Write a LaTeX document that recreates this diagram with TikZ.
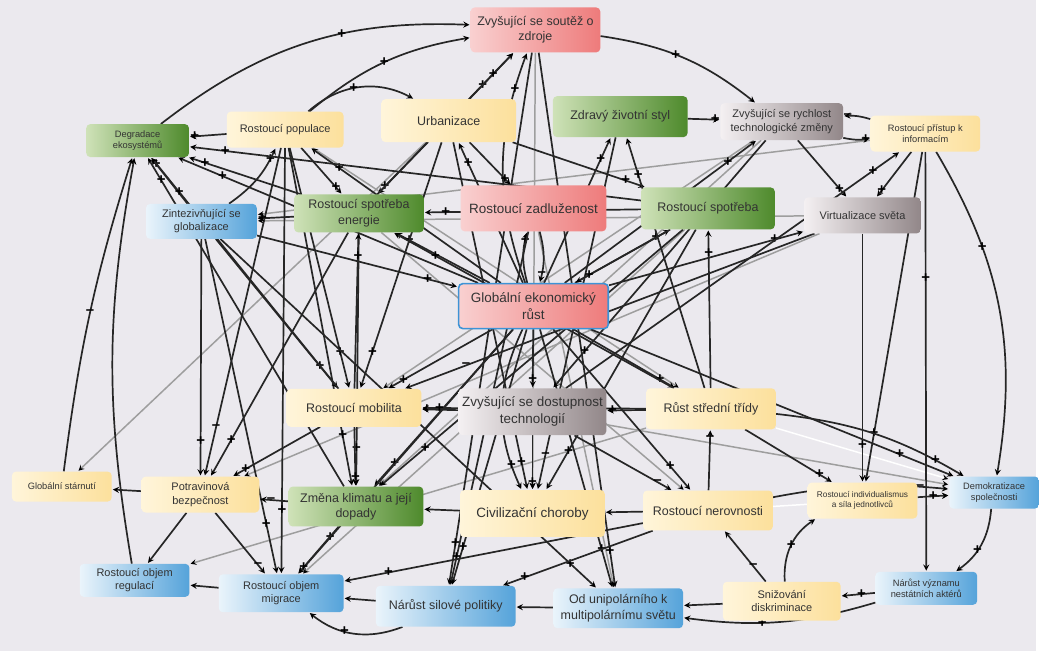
\documentclass[tikz,border=0pt]{standalone}
\usepackage{fontspec}
\setmainfont{Liberation Sans}
\usetikzlibrary{arrows}

\definecolor{paper}{HTML}{EBE9EE}
\definecolor{yelL}{HTML}{FFF5DA}
\definecolor{yelR}{HTML}{FCE09C}
\definecolor{grnL}{HTML}{CFE2B8}
\definecolor{grnR}{HTML}{4E8A2C}
\definecolor{redL}{HTML}{F9D0D0}
\definecolor{redR}{HTML}{EE7B7B}
\definecolor{gryL}{HTML}{F4F0F2}
\definecolor{gryR}{HTML}{928789}
\definecolor{bluL}{HTML}{EAF4FB}
\definecolor{bluR}{HTML}{55A3DA}
\definecolor{hubblue}{HTML}{3D93D6}

\pgfdeclarelayer{bg}
\pgfsetlayers{bg,main}

\begin{document}
\begin{tikzpicture}[
            x = 1pt, y = -1pt,
            > = stealth, % arrow head style
            shorten > = 1pt, % don't touch arrow head to node
            link/.style = {->, draw=black!85, line width=1.7pt},
            glink/.style = {->, draw=black!38, line width=1.5pt},
            wlink/.style = {->, draw=white, line width=1.5pt},
            sign/.style = {font=\fontsize{15}{15}\bfseries\selectfont, inner sep=0.3pt, pos=0.85, text=black},
            factor/.style = {rounded corners=4pt, align=center, inner sep=2pt, text=black!80},
            yelbox/.style = {factor, left color=yelL, right color=yelR},
            grnbox/.style = {factor, left color=grnL, right color=grnR},
            redbox/.style = {factor, left color=redL, right color=redR},
            grybox/.style = {factor, left color=gryL, right color=gryR},
            blubox/.style = {factor, left color=bluL, right color=bluR},
            huge/.style = {font=\fontsize{13.5}{17}\selectfont},
            big/.style = {font=\fontsize{12.5}{15.5}\selectfont},
            mid/.style = {font=\fontsize{11}{13.5}\selectfont},
            small/.style = {font=\fontsize{9.3}{11.5}\selectfont},
            tiny/.style = {font=\fontsize{8.3}{10}\selectfont}
        ]

        % factors, top to bottom
        \node[redbox, big, minimum width=130pt, minimum height=45pt] (soutez) at (537,30) {Zvyšující se soutěž o\\zdroje};
        \node[grnbox, small, minimum width=103pt, minimum height=33pt] (degr) at (138,141) {Degradace\\ekosystémů};
        \node[yelbox, mid, minimum width=117pt, minimum height=36pt] (pop) at (286,130) {Rostoucí populace};
        \node[yelbox, big, minimum width=135pt, minimum height=43pt] (urb) at (450,121) {Urbanizace};
        \node[grnbox, big, minimum width=135pt, minimum height=41pt] (zdrav) at (622,117) {Zdravý životní styl};
        \node[grybox, mid, minimum width=123pt, minimum height=37pt] (rychl) at (784,122) {Zvyšující se rychlost\\technologické změny};
        \node[yelbox, small, minimum width=110pt, minimum height=36pt] (pristup) at (928,134) {Rostoucí přístup k\\informacím};

        \node[blubox, mid, minimum width=111pt, minimum height=35pt] (glob) at (202,222) {Zintezivňující se\\globalizace};
        \node[grnbox, big, minimum width=130pt, minimum height=38pt] (energ) at (360,214) {Rostoucí spotřeba\\energie};
        \node[redbox, huge, minimum width=146pt, minimum height=46pt] (zadl) at (535,209) {Rostoucí zadluženost};
        \node[grnbox, big, minimum width=134pt, minimum height=42pt] (spotr) at (710,209) {Rostoucí spotřeba};
        \node[grybox, mid, minimum width=117pt, minimum height=36pt] (virt) at (865,216) {Virtualizace světa};

        \node[redbox, huge, draw=hubblue, line width=1.6pt, minimum width=150pt, minimum height=45pt] (rust) at (535,307) {Globální ekonomický\\růst};

        \node[yelbox, big, minimum width=135pt, minimum height=38pt] (mobil) at (355,409) {Rostoucí mobilita};
        \node[grybox, huge, minimum width=148pt, minimum height=47pt] (dostup) at (534,413) {Zvyšující se dostupnost\\technologií};
        \node[yelbox, big, minimum width=130pt, minimum height=41pt] (stred) at (713,410) {Růst střední třídy};

        \node[yelbox, small, minimum width=100pt, minimum height=30pt] (starn) at (62,488) {Globální stárnutí};
        \node[yelbox, mid, minimum width=118pt, minimum height=36pt] (potrav) at (201,496) {Potravinová\\bezpečnost};
        \node[grnbox, big, minimum width=135pt, minimum height=40pt] (klima) at (357,508) {Změna klimatu a její\\dopady};
        \node[yelbox, huge, minimum width=145pt, minimum height=47pt] (choroby) at (534,515) {Civilizační choroby};
        \node[yelbox, big, minimum width=130pt, minimum height=40pt] (nerov) at (710,512) {Rostoucí nerovnosti};
        \node[yelbox, tiny, minimum width=110pt, minimum height=36pt] (indiv) at (865,502) {Rostoucí individualismus\\a síla jednotlivců};
        \node[blubox, small, minimum width=90pt, minimum height=32pt] (demo) at (997,494) {Demokratizace\\společnosti};

        \node[blubox, mid, minimum width=110pt, minimum height=33pt] (regul) at (135,582) {Rostoucí objem\\regulací};
        \node[blubox, mid, minimum width=125pt, minimum height=38pt] (migr) at (282,595) {Rostoucí objem\\migrace};
        \node[blubox, big, minimum width=140pt, minimum height=41pt] (silova) at (447,608) {Nárůst silové politiky};
        \node[blubox, big, minimum width=130pt, minimum height=40pt] (unipol) at (620,610) {Od unipolárního k\\multipolárnímu světu};
        \node[yelbox, mid, minimum width=118pt, minimum height=39pt] (diskr) at (784,603) {Snižování\\diskriminace};
        \node[blubox, small, minimum width=102pt, minimum height=33pt] (nestat) at (929,590) {Nárůst významu\\nestátních aktérů};

        \begin{pgfonlayer}{bg}
        \fill[paper] (0,0) rectangle (1039,653);

        % faint links
        \path[glink] (virt) edge (potrav);
        \path[glink] (pristup) edge (glob);
        \path[glink] (rychl) edge (klima);
        \path[glink] (virt) edge (glob);
        \path[glink] (spotr) edge (migr);
        \path[glink] (dostup) edge (demo);
        \path[glink] (stred) edge (regul);
        \path[glink] (soutez) edge (choroby);
        \path[glink] (zadl) edge (unipol);
        \path[glink] (urb) edge (starn);
        \path[glink] (pop) edge (stred);
        \path[glink] (rychl) edge (mobil);
        \path[glink] (energ) edge (nerov);
        \path[wlink] (stred) edge (demo);
        \path[wlink] (nerov) edge (demo);

        % links from the hub
        \path[link] (rust) edge node[sign] {+} (pop)
                           edge node[sign] {+} (urb)
                           edge node[sign] {+} (energ)
                           edge[bend left=15] node[sign] {+} (zadl)
                           edge node[sign] {+} (spotr)
                           edge node[sign] {+} (virt)
                           edge node[sign] {+} (mobil)
                           edge node[sign] {+} (dostup)
                           edge node[sign] {+} (stred)
                           edge node[sign] {+} (klima)
                           edge node[sign] {+} (nerov)
                           edge[bend right=25] node[sign] {+} (choroby)
                           edge node[sign] {+} (degr)
                           edge[bend left=20] node[sign] {+} (soutez)
                           edge node[sign] {+} (zdrav)
                           edge node[sign] {+} (rychl)
                           edge node[sign] {+} (demo)
                           edge node[sign] {+} (migr)
                           edge node[sign] {+} (unipol)
                           edge node[sign] {+} (silova);

        % top row
        \path[link] (degr) edge[bend left=20] node[sign, pos=.62] {+} (soutez);
        \path[link] (pop) edge[bend left=15] node[sign, pos=.5] {+} (soutez)
                          edge[bend left=35] node[sign, pos=.45] {+} (urb)
                          edge node[sign] {+} (energ)
                          edge node[sign] {--} (potrav)
                          edge node[sign] {+} (migr)
                          edge node[sign] {+} (klima)
                          edge node[sign] {+} (mobil)
                          edge node[sign] {+} (degr);
        \path[link] (urb) edge node[sign, pos=.3] {+} (soutez)
                          edge node[sign] {+} (mobil)
                          edge node[sign] {+} (energ)
                          edge node[sign, pos=.92] {+} (choroby)
                          edge node[sign] {+} (spotr)
                          edge node[sign] {+} (zadl);
        \path[link] (soutez) edge[bend left=15] node[sign, pos=.45] {+} (rychl)
                             edge node[sign, pos=.92] {+} (silova)
                             edge node[sign, pos=.93] {+} (unipol);
        \path[link] (zdrav) edge node[sign] {+} (rychl)
                            edge node[sign, pos=.9] {--} (choroby);
        \path[link] (rychl) edge[bend right=10] node[sign] {+} (pristup)
                            edge node[sign] {+} (virt)
                            edge node[sign] {+} (dostup);
        \path[link] (pristup) edge[bend right=10] node[sign] {--} (rychl)
                              edge node[sign] {+} (virt)
                              edge[bend left=20] node[sign, pos=.3] {+} (demo)
                              edge node[sign, pos=.3] {+} (nestat)
                              edge node[sign] {+} (indiv);

        % second row
        \path[link] (glob) edge node[sign] {+} (degr)
                           edge[bend right=15] node[sign] {+} (pop)
                           edge node[sign] {+} (rust)
                           edge node[sign] {+} (migr)
                           edge node[sign] {+} (mobil)
                           edge node[sign] {+} (potrav)
                           edge node[sign, pos=.93] {+} (unipol);
        \path[link] (energ) edge node[sign] {+} (degr)
                            edge node[sign] {+} (klima)
                            edge node[sign] {+} (soutez)
                            edge node[sign] {+} (potrav)
                            edge node[sign] {+} (glob);
        \path[link] (zadl) edge[bend left=15] node[sign] {--} (rust)
                           edge node[sign, pos=.92] {+} (silova);
        \path[link] (spotr) edge node[sign] {+} (rust)
                            edge node[sign, pos=.92] {+} (degr)
                            edge node[sign, pos=.9] {+} (energ)
                            edge node[sign] {+} (klima)
                            edge node[sign] {+} (choroby);
        \path[link] (virt) edge node[sign] {+} (indiv)
                           edge node[sign] {--} (mobil);

        % middle row
        \path[link] (mobil) edge node[sign] {+} (klima)
                            edge node[sign] {+} (energ)
                            edge node[sign] {+} (potrav)
                            edge node[sign] {+} (degr);
        \path[link] (dostup) edge node[sign] {+} (mobil)
                             edge node[sign, pos=.92] {+} (pristup)
                             edge node[sign] {+} (choroby)
                             edge node[sign] {--} (nerov);
        \path[link] (stred) edge node[sign] {+} (spotr)
                            edge node[sign] {+} (zdrav)
                            edge node[sign, pos=.92] {+} (mobil)
                            edge node[sign] {+} (energ)
                            edge node[sign] {+} (indiv)
                            edge node[sign] {+} (dostup)
                            edge[bend left=12] node[sign] {+} (demo);

        % lower rows
        \path[link] (nerov) edge (choroby)
                            edge node[sign] {--} (stred)
                            edge node[sign] {+} (migr)
                            edge node[sign] {+} (silova)
                            edge[bend left=8] node[sign] {--} (demo);
        \path[link] (choroby) edge (klima);
        \path[link] (klima) edge node[sign, pos=.6] {--} (potrav)
                            edge node[sign, pos=.93] {+} (degr)
                            edge node[sign] {+} (migr);
        \path[link] (potrav) edge (starn)
                             edge (regul)
                             edge node[sign] {--} (migr);
        \path[link] (starn) edge[bend left=5] node[sign, pos=.5] {--} (degr);
        \path[link] (regul) edge[bend left=10] (degr);
        \path[link] (migr) edge (regul);
        \path[link] (silova) edge (migr)
                             edge[bend left=30] node[sign, pos=.6] {+} (migr);
        \path[link] (unipol) edge (silova);
        \path[link] (diskr) edge (unipol)
                            edge node[sign, pos=.3] {--} (nerov)
                            edge[bend left=30] node[sign, pos=.5] {+} (indiv);
        \path[link] (nestat) edge node[sign, pos=.4] {+} (diskr)
                             edge[bend left=12] node[sign, pos=.6] {+} (unipol);
        \path[link] (indiv) edge node[sign, pos=.5] {+} (demo);
        \path[link] (demo) edge[bend left=25] node[sign, pos=.6] {+} (nestat);
        \end{pgfonlayer}

  \end{tikzpicture}
\end{document}
